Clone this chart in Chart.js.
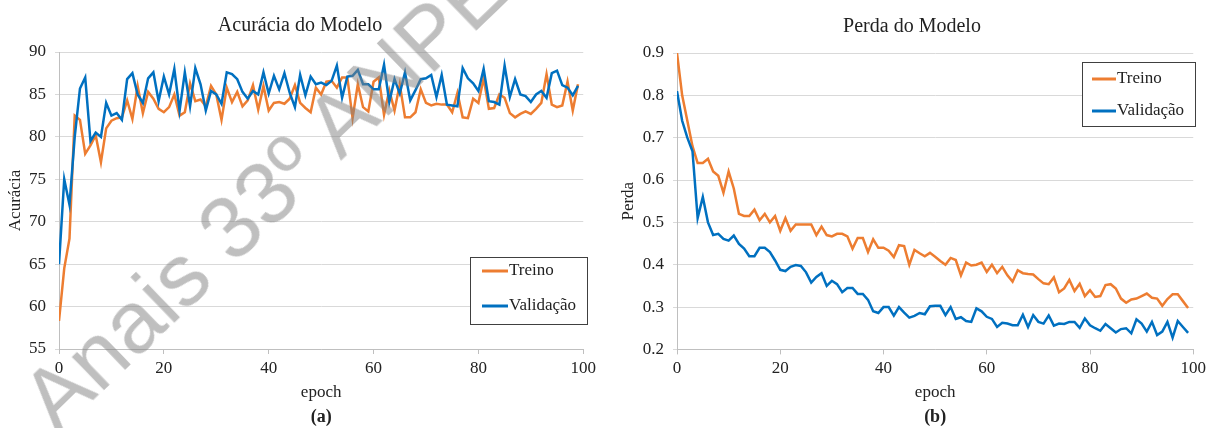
<!DOCTYPE html>
<html>
<head>
<meta charset="utf-8">
<script src="https://cdn.jsdelivr.net/npm/chart.js@4.4.1/dist/chart.umd.min.js"></script>
<style>
  body { margin: 0; background: #fff; }
  #wrap { position: relative; width: 1210px; height: 428px; overflow: hidden; }
  .box { position: absolute; top: 0; height: 428px; }
  #left { left: 0; width: 600px; }
  #right { left: 615px; width: 595px; }
  #wm {
    position: absolute; left: 0; top: 0;
    font: 88px "Liberation Sans", Arial, sans-serif;
    line-height: 1;
    white-space: nowrap;
    color: rgba(128, 128, 128, 0.5);
    transform-origin: 0 0;
    transform: translate(6px, 382px) rotate(-44deg);
    pointer-events: none;
  }
</style>
</head>
<body>
<div id="wrap">
  <div class="box" id="left"><canvas id="accChart" width="600" height="428"></canvas></div>
  <div class="box" id="right"><canvas id="lossChart" width="595" height="428"></canvas></div>
  <div id="wm">Anais 33º ANPET</div>
</div>
<script>
const epochs = [];
for (let i = 0; i < 100; ++i) {
    epochs.push(i);
}

const accTreino = [
    58.3, 64.5, 68, 82.5, 82, 78, 79, 80.2, 77, 81,
    81.9, 82.2, 82.3, 84.3, 82.1, 86, 82.8, 85.3, 84.5, 83.3,
    82.9, 83.5, 85, 82.5, 82.9, 86.3, 84.2, 84.4, 83.6, 86,
    85, 82, 85.8, 84.1, 85.3, 83.6, 84.3, 86.1, 83.2, 86,
    83.1, 84, 84.1, 83.9, 84.5, 86.1, 84, 83.4, 82.9, 85.8,
    85, 86.5, 86.6, 85.8, 87, 87, 82.2, 86.2, 83.5, 83,
    86.5, 87, 82.6, 85.5, 83.1, 86.2, 82.3, 82.3, 82.9, 85.6,
    84, 83.7, 83.9, 83.8, 83.8, 82.9, 85.2, 82.3, 82.2, 84.5,
    84, 86.9, 83.3, 83.4, 85, 84.6, 82.8, 82.3, 82.7, 83,
    82.7, 83.3, 84, 87.4, 83.8, 83.5, 83.7, 86.5, 83.1, 86.2
];
const accValidacao = [
    65, 75, 72, 80, 85.7, 87, 79.5, 80.5, 80, 84,
    82.5, 82.8, 82, 86.8, 87.5, 85, 84, 86.9, 87.6, 84.2,
    87.1, 85, 88, 83.1, 87.6, 83.6, 88.1, 86.2, 83.1, 85.4,
    85, 83.9, 87.6, 87.4, 86.8, 85.3, 84.5, 85.4, 85, 87.6,
    85.1, 87.2, 85.6, 87.5, 85.2, 83.5, 87.3, 84.9, 87.1, 86.2,
    86.4, 86.1, 86.6, 88.4, 84.6, 87.1, 87.2, 87.9, 86.2, 86.2,
    85.6, 85.6, 88.5, 84.1, 86.8, 85.1, 87.6, 84.3, 85.5, 86.8,
    86.9, 87.3, 84.7, 87.3, 83.8, 83.7, 83.6, 88.1, 86.9, 86.3,
    85.4, 88, 84.2, 84.1, 83.8, 88.4, 84.7, 86.8, 85, 84.8,
    84.1, 85, 85.4, 84.6, 87.5, 87.8, 86.1, 85.8, 84.9, 86
];
const lossTreino = [
    0.90, 0.80, 0.74, 0.68, 0.64, 0.64, 0.65, 0.62, 0.61, 0.57,
    0.62, 0.58, 0.52, 0.515, 0.515, 0.53, 0.505, 0.52, 0.50, 0.515,
    0.48, 0.51, 0.48, 0.495, 0.495, 0.495, 0.495, 0.47, 0.49, 0.47,
    0.467, 0.473, 0.473, 0.467, 0.438, 0.463, 0.463, 0.43, 0.46, 0.44,
    0.44, 0.433, 0.418, 0.446, 0.444, 0.40, 0.435, 0.427, 0.42, 0.428,
    0.419, 0.409, 0.40, 0.416, 0.411, 0.375, 0.405, 0.398, 0.40, 0.405,
    0.383, 0.40, 0.38, 0.395, 0.375, 0.36, 0.387, 0.38, 0.378, 0.377,
    0.366, 0.356, 0.354, 0.37, 0.335, 0.344, 0.364, 0.338, 0.355, 0.326,
    0.34, 0.324, 0.326, 0.352, 0.354, 0.344, 0.32, 0.31, 0.318, 0.32,
    0.326, 0.332, 0.322, 0.32, 0.303, 0.319, 0.33, 0.33, 0.314, 0.298
];
const lossValidacao = [
    0.81, 0.74, 0.70, 0.668, 0.51, 0.56, 0.50, 0.47, 0.473, 0.461,
    0.457, 0.469, 0.449, 0.438, 0.42, 0.42, 0.44, 0.44, 0.43, 0.41,
    0.388, 0.385, 0.395, 0.399, 0.397, 0.382, 0.358, 0.371, 0.38, 0.35,
    0.362, 0.354, 0.335, 0.345, 0.345, 0.331, 0.331, 0.317, 0.29, 0.286,
    0.30, 0.30, 0.28, 0.30, 0.287, 0.275, 0.279, 0.286, 0.283, 0.302,
    0.303, 0.303, 0.281, 0.30, 0.272, 0.276, 0.267, 0.265, 0.297, 0.29,
    0.277, 0.272, 0.253, 0.263, 0.261, 0.257, 0.257, 0.282, 0.253, 0.281,
    0.265, 0.261, 0.28, 0.256, 0.261, 0.26, 0.265, 0.265, 0.251, 0.273,
    0.257, 0.25, 0.244, 0.26, 0.25, 0.24, 0.248, 0.25, 0.238, 0.271,
    0.261, 0.242, 0.265, 0.234, 0.242, 0.265, 0.228, 0.267, 0.253, 0.239
];

const serif = "'Liberation Serif', 'Times New Roman', serif";
const textColor = '#222';
const orange = '#ED7D31';
const blue = '#0070C0';

// legend drawn as a framed box inside the plot, like the Excel original
const boxLegend = {
    id: 'boxLegend',
    afterDatasetsDraw(chart, args, opts) {
        const ctx = chart.ctx;
        ctx.save();
        ctx.fillStyle = '#fff';
        ctx.fillRect(opts.x, opts.y, opts.w, opts.h);
        ctx.strokeStyle = '#404040';
        ctx.lineWidth = 1;
        ctx.strokeRect(opts.x + 0.5, opts.y + 0.5, opts.w, opts.h);
        ctx.font = '17px ' + serif;
        ctx.textBaseline = 'middle';
        chart.data.datasets.forEach((ds, i) => {
            const y = opts.y + opts.rows[i];
            ctx.strokeStyle = ds.borderColor;
            ctx.lineWidth = 3;
            ctx.beginPath();
            ctx.moveTo(opts.x + opts.line0, y);
            ctx.lineTo(opts.x + opts.line1, y);
            ctx.stroke();
            ctx.fillStyle = textColor;
            ctx.fillText(ds.label, opts.x + opts.text, y);
        });
        ctx.restore();
    }
};

function makeChart(id, cfg) {
    return new Chart(document.getElementById(id), {
        type: 'line',
        data: {
            labels: epochs,
            datasets: [
                { label: 'Treino', data: cfg.treino, borderColor: orange, borderWidth: 2.5, pointRadius: 0, fill: false, tension: 0, order: 1 },
                { label: 'Validação', data: cfg.validacao, borderColor: blue, borderWidth: 2.5, pointRadius: 0, fill: false, tension: 0, order: 0 }
            ]
        },
        plugins: [boxLegend],
        options: {
            responsive: false,
            animation: false,
            layout: { padding: { left: 15, right: cfg.padRight, top: 0, bottom: 0 } },
            plugins: {
                legend: { display: false },
                tooltip: { enabled: false },
                title: {
                    display: true, text: cfg.title, color: textColor,
                    font: { family: serif, size: 20, weight: 'normal' },
                    padding: cfg.titlePad
                },
                subtitle: {
                    display: true, position: 'bottom', fullSize: false, text: cfg.caption, color: textColor,
                    font: { family: serif, size: 18, weight: 'bold' },
                    padding: { top: 0, bottom: 0 }
                },
                boxLegend: cfg.legend
            },
            scales: {
                x: {
                    type: 'linear', min: 0, max: 100,
                    ticks: { stepSize: 20, padding: 4, color: textColor, font: { family: serif, size: 17 } },
                    grid: { drawOnChartArea: false, tickLength: 5, color: '#bfbfbf' },
                    border: { color: '#bfbfbf' },
                    title: { display: true, text: 'epoch', color: textColor, font: { family: serif, size: 17 }, padding: { top: 0, bottom: 4 } },
                    afterFit(s) { s.height = cfg.xHeight; }
                },
                y: {
                    min: cfg.yMin, max: cfg.yMax,
                    ticks: {
                        stepSize: cfg.yStep, padding: 9, color: textColor, font: { family: serif, size: 17 },
                        callback: cfg.yFmt
                    },
                    grid: { color: '#d9d9d9', tickLength: 4 },
                    border: { color: '#bfbfbf' },
                    title: { display: true, text: cfg.yTitle, color: textColor, font: { family: serif, size: 17 }, padding: { top: cfg.yTitlePad, bottom: 0 } },
                    afterFit(s) { s.width = cfg.yWidth; }
                }
            }
        }
    });
}

makeChart('accChart', {
    treino: accTreino, validacao: accValidacao,
    title: 'Acurácia do Modelo', caption: '(a)', yTitle: 'Acurácia',
    yMin: 55, yMax: 90, yStep: 5, yFmt: v => v,
    padRight: 15, yWidth: 44, yTitlePad: -10, xHeight: 57.4,
    titlePad: { top: 14, bottom: 14 },
    legend: { x: 470, y: 257, w: 117, h: 67, rows: [14, 49], line0: 12, line1: 38, text: 39 }
});

makeChart('lossChart', {
    treino: lossTreino, validacao: lossValidacao,
    title: 'Perda do Modelo', caption: '(b)', yTitle: 'Perda',
    yMin: 0.2, yMax: 0.9, yStep: 0.1, yFmt: v => Number(v).toFixed(1),
    padRight: 16, yWidth: 47, yTitlePad: -12, xHeight: 57,
    titlePad: { top: 15, bottom: 14 },
    legend: { x: 467, y: 62, w: 113, h: 64, rows: [17, 49], line0: 10, line1: 34, text: 35 }
});
</script>
</body>
</html>
